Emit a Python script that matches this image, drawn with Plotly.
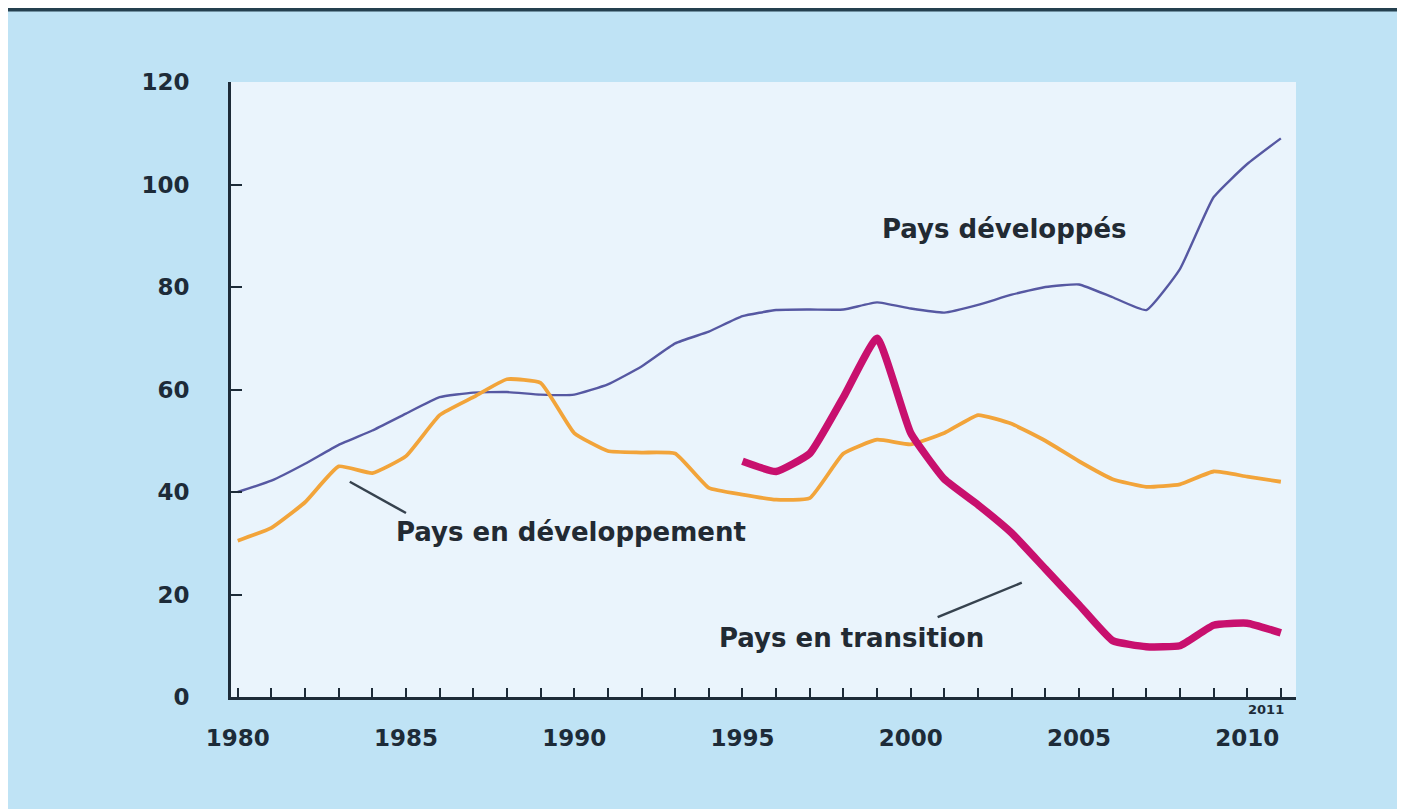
import plotly.graph_objects as go

years = list(range(1980, 2012))
developed = [40, 42.2, 45.5, 49.2, 52, 55.3, 58.5, 59.4, 59.5, 59, 59, 61, 64.5, 69, 71.3, 74.3,
             75.5, 75.6, 75.6, 77, 75.8, 75, 76.5, 78.5, 80, 80.5, 78, 75.5, 83.5, 97.5, 104, 109]
developing = [30.5, 33, 38, 45, 43.7, 47, 55, 58.5, 62, 61.3, 51.5, 48, 47.7, 47.5, 40.8, 39.5,
              38.5, 38.8, 47.5, 50.2, 49.3, 51.5, 55, 53.3, 50, 46, 42.5, 41, 41.5, 44, 43, 42]
trans_years = list(range(1995, 2012))
transition = [46, 44, 47.5, 58.5, 70, 51.5, 42.5, 37.5, 32, 25, 18, 11, 9.8, 10, 14, 14.4, 12.5]

label_years = [1980, 1985, 1990, 1995, 2000, 2005, 2010]
y_ticks = [0, 20, 40, 60, 80, 100, 120]

PAPER = "#bfe3f5"
PLOT = "#eaf4fc"
INK = "#1d2b38"
FONT = "DejaVu Sans"

fig = go.Figure()
fig.add_trace(go.Scatter(x=years, y=developed, mode="lines",
                         line=dict(color="#5658a2", width=2.4, shape="spline", smoothing=0.4),
                         name="Pays développés", showlegend=False))
fig.add_trace(go.Scatter(x=years, y=developing, mode="lines",
                         line=dict(color="#f2a43a", width=3.8, shape="spline", smoothing=0.4),
                         name="Pays en développement", showlegend=False))
fig.add_trace(go.Scatter(x=trans_years, y=transition, mode="lines",
                         line=dict(color="#c8106e", width=7.5, shape="spline", smoothing=0.4),
                         name="Pays en transition", showlegend=False))

ticktext = [str(y) if y in label_years else "" for y in years]

fig.update_xaxes(range=[1979.8, 2011.45], tickvals=years, ticktext=ticktext,
                 ticks="inside", ticklen=9, tickwidth=2, tickcolor=INK,
                 showline=True, linewidth=3, linecolor=INK, showgrid=False, zeroline=False,
                 tickfont=dict(family=FONT, size=23, color=INK, weight="bold"), ticklabelstandoff=18)
fig.update_yaxes(range=[0, 120], tickvals=y_ticks,
                 ticks="inside", ticklen=11, tickwidth=2, tickcolor=INK,
                 showline=True, linewidth=3, linecolor=INK, showgrid=False, zeroline=False,
                 tickfont=dict(family=FONT, size=23, color=INK, weight="bold"), ticklabelstandoff=34)

annots = [
    dict(x=2002.8, y=91.4, text="Pays développés"),
    dict(x=1989.9, y=32.2, text="Pays en développement"),
    dict(x=1998.25, y=11.5, text="Pays en transition"),
]
for a in annots:
    fig.add_annotation(x=a["x"], y=a["y"], text=a["text"], showarrow=False,
                       xref="x", yref="y",
                       font=dict(family=FONT, size=26, color="#222a33", weight="bold"))

fig.add_annotation(x=2011.15, y=0, text="2011", showarrow=False, xref="x", yref="y",
                   xanchor="right", yanchor="top", yshift=-3,
                   font=dict(family=FONT, size=13, color=INK, weight="bold"))

# pointer lines
fig.add_shape(type="line", xref="x", yref="y", x0=1983.33, y0=42, x1=1985.0, y1=35.9,
              line=dict(color="#36424e", width=2.5))
fig.add_shape(type="line", xref="x", yref="y", x0=2003.3, y0=22.3, x1=2000.8, y1=15.6,
              line=dict(color="#36424e", width=2.5))

# dark top rule
fig.add_shape(type="line", xref="paper", yref="paper", x0=-0.25, x1=1.2, y0=1.1179, y1=1.1179,
              line=dict(color="#24404f", width=4))

fig.update_layout(
    width=1405, height=809,
    margin=dict(l=223, r=117, t=74, b=120),
    paper_bgcolor=PAPER, plot_bgcolor=PLOT,
    font=dict(family=FONT, color=INK),
)

fig.write_html("out.html",
               post_script="document.documentElement.style.overflow='hidden';"
                           "document.body.style.overflow='hidden';")
